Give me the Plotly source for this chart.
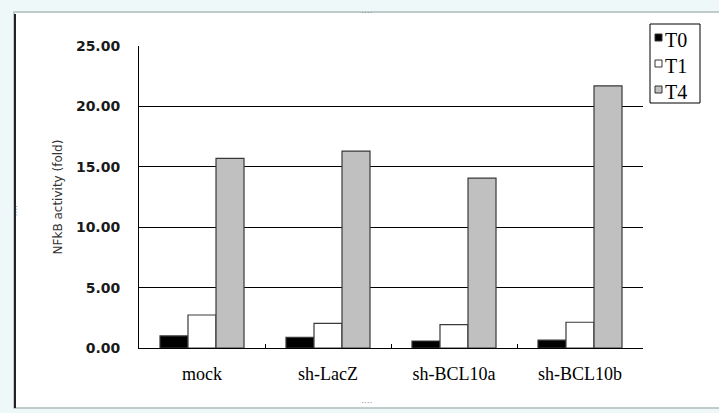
import plotly.graph_objects as go

categories = ["mock", "sh-LacZ", "sh-BCL10a", "sh-BCL10b"]
t0 = [1.00, 0.88, 0.58, 0.66]
t1 = [2.73, 2.04, 1.93, 2.13]
t4 = [15.70, 16.30, 14.07, 21.70]
series_names = ["T0", "T1", "T4"]
colors = ["#000000", "#FFFFFF", "#C0C0C0"]
y_ticks = [0, 5, 10, 15, 20, 25]
y_tick_labels = ["0.00", "5.00", "10.00", "15.00", "20.00", "25.00"]

W, H = 719, 413
L, R, T, B = 139, 76, 46, 65
PW, PH = W - L - R, H - T - B


def px(x):
    return (x - L) / PW


def py(y):
    return (H - B - y) / PH


fig = go.Figure()
for name, vals, col in zip(series_names, [t0, t1, t4], colors):
    fig.add_trace(go.Bar(x=categories, y=vals, name=name, showlegend=False,
                         marker=dict(color=col, line=dict(color="#3a3a3a", width=1.2))))

fig.update_layout(
    width=W, height=H,
    margin=dict(l=L, r=R, t=T, b=B),
    paper_bgcolor="#eef8f8", plot_bgcolor="rgba(0,0,0,0)",
    barmode="group", bargap=0.333, bargroupgap=0,
    showlegend=False,
    xaxis=dict(showline=True, linecolor="#000000", linewidth=1,
               ticks="inside", ticklen=4, tickcolor="#000000", tickson="boundaries",
               tickfont=dict(family="Liberation Serif", size=18, color="#000000"),
               ticklabelstandoff=9, showgrid=False),
    yaxis=dict(range=[0, 25], tickvals=y_ticks, ticktext=y_tick_labels,
               showline=True, linecolor="#000000", linewidth=1,
               ticks="inside", ticklen=5, tickcolor="#000000",
               showgrid=True, gridcolor="#000000", gridwidth=1, zeroline=False,
               tickfont=dict(family="DejaVu Sans", size=14, color="#1a1a1a", weight="bold"),
               ticklabelstandoff=15,
               title=dict(text="NFkB activity (fold)", standoff=10,
                          font=dict(family="DejaVu Sans", size=12, color="#333333"))),
)

# frame of the embedded chart object
fig.add_shape(type="rect", xref="paper", yref="paper",
              x0=px(14), x1=px(722), y0=py(408), y1=py(12),
              fillcolor="white", line=dict(color="#b0bcbc", width=1.5), layer="below")
fig.add_shape(type="line", xref="paper", yref="paper",
              x0=px(15), x1=px(15), y0=py(408), y1=py(14),
              line=dict(color="#222222", width=2), layer="below")
for (hx, hy, ang) in [(366, 6, 0), (366, 410, 0), (9, 210, 90)]:
    fig.add_annotation(x=px(hx), y=py(hy), xref="paper", yref="paper", text="····",
                       showarrow=False, textangle=ang,
                       font=dict(family="DejaVu Sans", size=9, color="#8a9a9a"))

# legend box built from the series lists
lx0, lx1, ly0, ly1 = 650, 700, 24, 103
fig.add_shape(type="rect", xref="paper", yref="paper",
              x0=px(lx0), x1=px(lx1), y0=py(ly1), y1=py(ly0),
              fillcolor="white", line=dict(color="#000000", width=1))
for i, (name, col) in enumerate(zip(series_names, colors)):
    top = 34 + 26 * i
    fig.add_shape(type="rect", xref="paper", yref="paper",
                  x0=px(655), x1=px(662), y0=py(top + 7), y1=py(top),
                  fillcolor=col, line=dict(color="#333333", width=1))
    fig.add_annotation(x=px(663), y=py(top + 6), xref="paper", yref="paper",
                       text=name, showarrow=False, xanchor="left", yanchor="middle",
                       font=dict(family="Liberation Serif", size=20, color="#000000"))

fig.write_html("out.html", post_script="document.body.style.margin='0';",
               config={"displayModeBar": False})
